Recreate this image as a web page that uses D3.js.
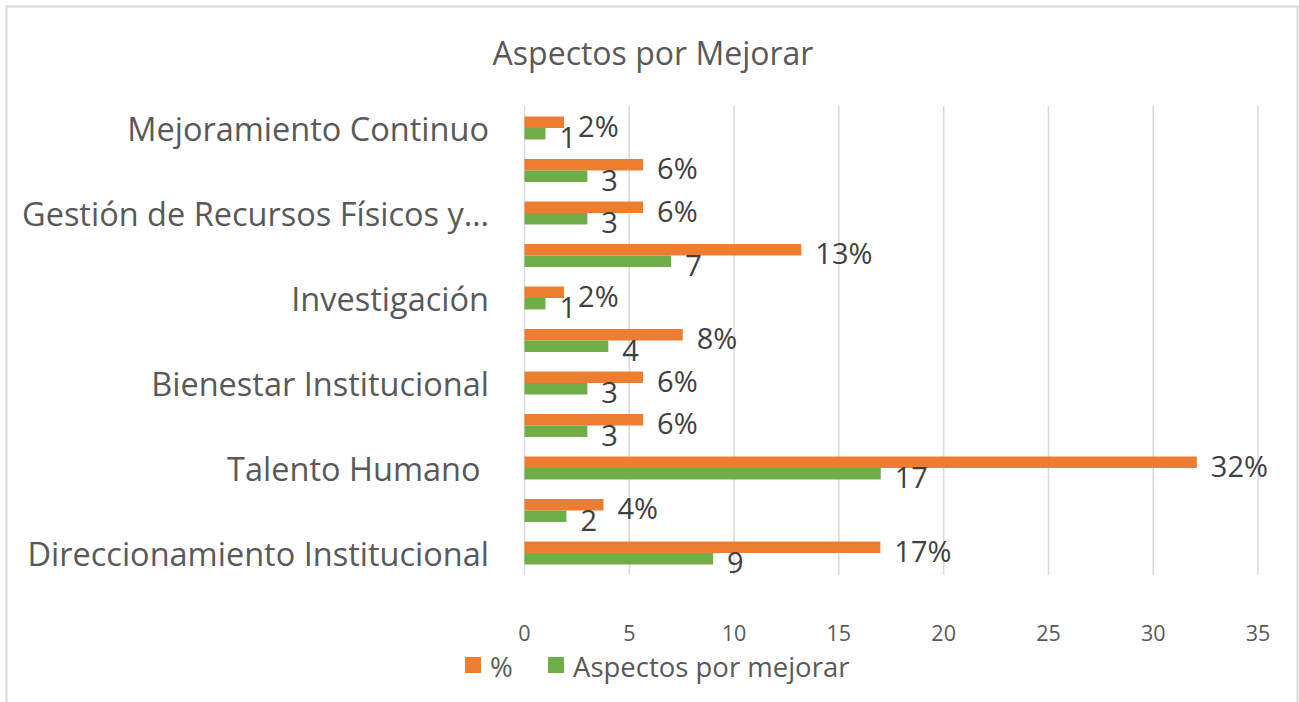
<!DOCTYPE html>
<html>
<head>
    <meta charset="utf-8">
    <title>Aspectos por Mejorar</title>
    <script src="https://d3js.org/d3.v7.min.js"></script>
    <style>
        body {
            margin: 0;
            background: #fff;
            font-family: "Open Sans", "Noto Sans", sans-serif;
        }
        svg { display: block; }
        .cat { font-size: 32.5px; fill: #595959; }
        .tick-label { font-size: 21.5px; fill: #595959; }
        .data-label { font-size: 29px; fill: #404040; }
        .legend-text { font-size: 27.5px; fill: #595959; }
        .title { font-size: 32px; fill: #595959; }
    </style>
</head>
<body>
    <div id="chart"></div>
    <script>
        // rows top to bottom, every other category label is skipped (as in the original)
        const categories = [
            'Mejoramiento Continuo', '',
            'Gestión de Recursos Físicos y…', '',
            'Investigación', '',
            'Bienestar Institucional', '',
            'Talento Humano\u00a0', '',
            'Direccionamiento Institucional'
        ];
        const aspectos = [1, 3, 3, 7, 1, 4, 3, 3, 17, 2, 9];
        const porcentaje = [1.89, 5.66, 5.66, 13.21, 1.89, 7.55, 5.66, 5.66, 32.08, 3.77, 16.98];
        const xTicks = [0, 5, 10, 15, 20, 25, 30, 35];
        const seriesNames = ['%', 'Aspectos por mejorar'];
        const colors = ['#ED7D31', '#70AD47'];

        const width = 1299, height = 702;

        const svg = d3.select('#chart')
            .append('svg')
            .attr('width', width)
            .attr('height', height);

        // chart frame
        svg.append('rect')
            .attr('x', 6.5).attr('y', 6.5)
            .attr('width', 1291).attr('height', 710)
            .attr('fill', '#fff')
            .attr('stroke', '#d9d9d9')
            .attr('stroke-width', 2);

        svg.append('text')
            .attr('class', 'title')
            .attr('x', 653).attr('y', 52)
            .attr('text-anchor', 'middle')
            .attr('dominant-baseline', 'central')
            .text('Aspectos por Mejorar');

        const x = d3.scaleLinear().domain([0, 35]).range([524.5, 1258]);
        const y = d3.scaleBand()
            .domain(d3.range(categories.length))
            .range([106.75, 574.25])
            .paddingInner(0.46)
            .paddingOuter(0.23);
        const sub = d3.scaleBand().domain([0, 1]).range([0, y.bandwidth()]);

        // vertical gridlines
        svg.append('g')
            .selectAll('line')
            .data(xTicks)
            .join('line')
            .attr('x1', d => x(d)).attr('x2', d => x(d))
            .attr('y1', 106).attr('y2', 575)
            .attr('stroke', '#d9d9d9')
            .attr('stroke-width', 1.5);

        // x axis tick labels
        svg.append('g')
            .selectAll('text')
            .data(xTicks)
            .join('text')
            .attr('class', 'tick-label')
            .attr('x', d => x(d))
            .attr('y', 632)
            .attr('text-anchor', 'middle')
            .attr('dominant-baseline', 'central')
            .text(d => d);

        // category labels
        svg.append('g')
            .selectAll('text')
            .data(categories)
            .join('text')
            .attr('class', 'cat')
            .attr('x', 489)
            .attr('y', (d, i) => y(i) + y.bandwidth() / 2)
            .attr('text-anchor', 'end')
            .attr('dominant-baseline', 'central')
            .style('white-space', 'pre')
            .text(d => d);

        const series = [porcentaje, aspectos];
        const fmt = [v => Math.round(v) + '%', v => v];

        series.forEach((vals, s) => {
            const g = svg.append('g');
            g.selectAll('rect')
                .data(vals)
                .join('rect')
                .attr('x', x(0))
                .attr('y', (d, i) => y(i) + sub(s))
                .attr('width', d => x(d) - x(0))
                .attr('height', sub.bandwidth())
                .attr('fill', colors[s]);

            g.selectAll('text')
                .data(vals)
                .join('text')
                .attr('class', 'data-label')
                .attr('x', d => x(d) + 14)
                .attr('y', (d, i) => y(i) + sub(s) + sub.bandwidth() / 2 + 3)
                .attr('dominant-baseline', 'central')
                .text(d => fmt[s](d));
        });

        // legend
        const legendX = [465, 548];
        const legend = svg.append('g')
            .selectAll('g')
            .data(seriesNames)
            .join('g')
            .attr('transform', (d, i) => `translate(${legendX[i]},665)`);
        legend.append('rect')
            .attr('x', 0).attr('y', -8)
            .attr('width', 16).attr('height', 16)
            .attr('fill', (d, i) => colors[i]);
        legend.append('text')
            .attr('class', 'legend-text')
            .attr('x', 25)
            .attr('y', 1)
            .attr('dominant-baseline', 'central')
            .text(d => d);
    </script>
</body>
</html>
